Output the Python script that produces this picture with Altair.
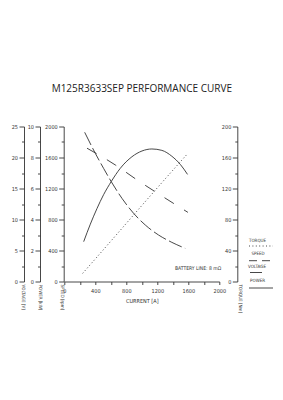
import altair as alt
import pandas as pd

# Motor performance readings against armature current (A)
torque_current = [237, 600, 1000, 1400, 1595]
torque_nm = [10.5, 52.0, 98.0, 143.5, 165.4]

speed_current = [263, 400, 507, 606, 744, 894, 1045, 1216, 1388, 1560]
speed_rpm = [1925, 1654, 1460, 1288, 1073, 880, 729, 600, 505, 428]

voltage_current = [293, 658, 937, 1225, 1595]
voltage_v = [21.5, 18.8, 16.4, 14.06, 11.15]

power_current = [250, 336, 421, 507, 606, 722, 873, 1002, 1130, 1259, 1388, 1496, 1590]
power_kw = [2.57, 3.7, 4.7, 5.6, 6.45, 7.3, 8.05, 8.42, 8.55, 8.46, 8.08, 7.56, 6.91]

current_ticks = list(range(0, 2001, 200))

legend_names = ["TORQUE", "SPEED", "VOLTAGE", "POWER"]
battery_note = "BATTERY LINE: 8 m\u03a9"

INK = "#333333"
FONT = "Liberation Sans Narrow, DejaVu Sans Condensed, DejaVu Sans, sans-serif"
W = H = 155


def major_test(step):
    return f"abs(datum.value / {step} - round(datum.value / {step})) < 1e-6"


def value_axis(maximum, minor, major, offset, title, title_dx):
    n = int(round(maximum / minor))
    ticks = [round(i * minor, 3) for i in range(n + 1)]
    return alt.Axis(
        orient="left", offset=offset, values=ticks, format="d",
        labelExpr=f"{major_test(major)} ? datum.label : ''",
        tickSize={"condition": {"test": major_test(major), "value": 5}, "value": 2.5},
        labelPadding=1.5, labelFlush=False, labelOverlap=False,
        title=title, titleAngle=90, titleAlign="left", titleBaseline="middle",
        titleX=title_dx, titleY=H + 2.5,
    )


x_enc = alt.X(
    "current:Q",
    scale=alt.Scale(domain=[0, 2000], nice=False),
    axis=alt.Axis(
        values=current_ticks, format="d",
        labelExpr=f"{major_test(400)} ? datum.label : ''",
        labelFlush=False, labelOverlap=False,
        tickSize=3, labelPadding=3.5, title="CURRENT [A]", titlePadding=5,
        titleFontSize=5.5,
    ),
)


def curve(current, values, field, maximum, axis, dash=None):
    df = pd.DataFrame({"current": current, field: values})
    mark_kw = dict(stroke=INK, strokeWidth=0.9, interpolate="monotone")
    if dash:
        mark_kw["strokeDash"] = dash
    return alt.Chart(df).mark_line(**mark_kw).encode(
        x=x_enc,
        y=alt.Y(f"{field}:Q", scale=alt.Scale(domain=[0, maximum], nice=False), axis=axis),
    )


speed = curve(speed_current, speed_rpm, "speed", 2000,
              value_axis(2000, 200, 400, 0.6, "SPEED [rpm]", -2), [14, 3.5])
power = curve(power_current, power_kw, "power", 10,
              value_axis(10, 1, 2, 24.3, "POWER [kW]", -1), None)
voltage = curve(voltage_current, voltage_v, "voltage", 25,
                value_axis(25, 2.5, 5, 40.3, "VOLTAGE [V]", -2), [11, 12])
torque = curve(torque_current, torque_nm, "torque", 200,
               value_axis(200, 20, 40, -173, "TORQUE [Nm]", 2), [1, 2.4])


def legend_item(name, tx, ty, x1, x2, ly, dash=None):
    df = pd.DataFrame({"label": [name]})
    label = alt.Chart(df).mark_text(
        font=FONT, fontSize=4.5, color=INK, align="center", baseline="middle"
    ).encode(text="label:N", x=alt.value(tx), y=alt.value(ty))
    rule_kw = dict(stroke=INK, strokeWidth=0.9)
    if dash:
        rule_kw["strokeDash"] = dash
    line = alt.Chart(df).mark_rule(**rule_kw).encode(
        x=alt.value(x1), x2=alt.value(x2), y=alt.value(ly)
    )
    return [label, line]


legend_layers = (
    legend_item(legend_names[0], 193.2, 114.5, 184.7, 208.7, 119.5, [1, 2.4])
    + legend_item(legend_names[1], 193.7, 127.5, 184.7, 205.7, 134.2, [8, 5])
    + legend_item(legend_names[2], 192.7, 140.5, 185.7, 197.7, 146)
    + legend_item(legend_names[3], 193.2, 154.5, 184.7, 208.7, 161.5)
)

battery = alt.Chart(pd.DataFrame({"label": [battery_note]})).mark_text(
    font=FONT, fontSize=5, color=INK, align="left", baseline="middle"
).encode(text="label:N", x=alt.value(110.7), y=alt.value(141.8))

chart = (
    alt.layer(speed, power, voltage, torque, battery, *legend_layers)
    .resolve_scale(y="independent")
    .properties(
        width=W, height=H,
        padding={"left": 64.3, "top": 126.5, "right": 283 - 64.3 - W, "bottom": 400 - 126.5 - H},
        autosize=alt.AutoSizeParams(type="none"),
        title=alt.TitleParams(
            "M125R3633SEP PERFORMANCE CURVE", font="Open Sans", fontSize=10,
            fontWeight="normal", color="#222222", anchor="middle", frame="group", offset=31,
        ),
    )
    .configure_view(stroke=None)
    .configure_axis(
        domainColor=INK, tickColor=INK, labelColor=INK, titleColor=INK,
        labelFont=FONT, titleFont=FONT, labelFontSize=5.5, titleFontSize=4.5,
        titleFontWeight="normal", grid=False, domainWidth=0.9, tickWidth=0.9,
    )
)

chart.save("out.html", embed_options={"renderer": "svg", "actions": False})
